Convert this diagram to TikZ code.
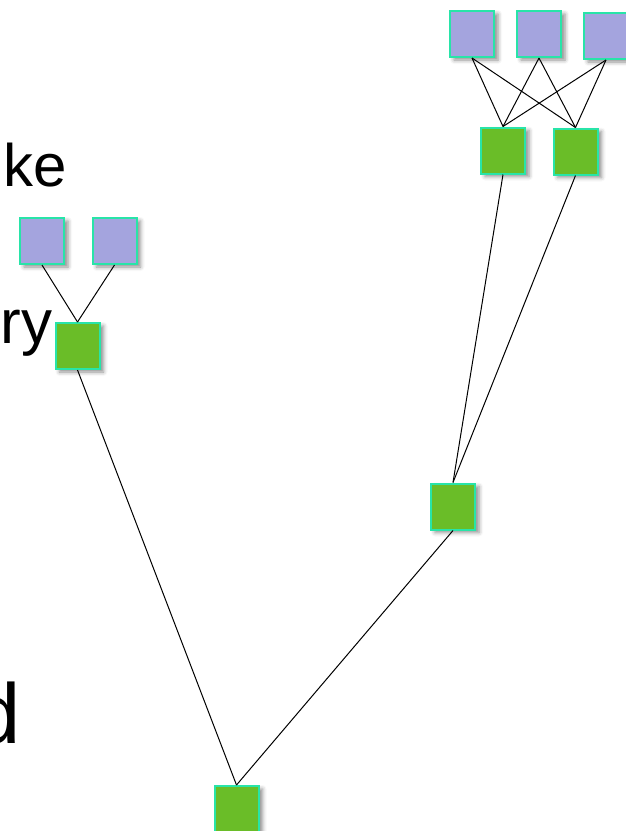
\documentclass[tikz,border=0pt]{standalone}
\usepackage{fontspec}
\setmainfont{Liberation Sans}
\usetikzlibrary{shadows.blur}
\definecolor{leafblue}{RGB}{164,164,222}
\definecolor{innergreen}{RGB}{106,189,40}
\definecolor{rimcyan}{RGB}{40,228,168}
\tikzset{
  box/.style={rectangle, draw=rimcyan, line width=2pt, inner sep=0pt,
    minimum width=44pt, minimum height=46pt,
    blur shadow={shadow xshift=4pt, shadow yshift=-3pt, shadow blur radius=4pt, shadow opacity=45}},
  leaf/.style={box, fill=leafblue},
  inner/.style={box, fill=innergreen},
  edge/.style={draw=black, line width=1pt},
  word/.style={inner sep=0pt, outer sep=0pt}
}
\begin{document}
\begin{tikzpicture}[x=1pt, y=-1pt]
\useasboundingbox (0,0) rectangle (626,831);
\begin{scope}
\clip (0,0) rectangle (626,831);

% text fragments on the left margin
\node[word, anchor=base west, font=\fontsize{60}{66}\selectfont] (t1) at (4,186) {ke};
\node[word, anchor=base west, font=\fontsize{62}{70}\selectfont] (t2) at (1,343) {ry};
\node[word, anchor=base east, font=\fontsize{85}{95}\selectfont] (t3) at (21,743) {d};

% upper right cluster
\node[leaf] (p1) at (472,34) {};
\node[leaf] (p2) at (539,34) {};
\node[leaf] (p3) at (606,36) {};
\node[inner] (g1) at (503,150.5) {};
\node[inner] (g2) at (575.5,151.5) {};

% left cluster
\node[leaf] (l1) at (42,241) {};
\node[leaf] (l2) at (114.5,241) {};
\node[inner] (g3) at (77.5,346) {};

% middle and root
\node[inner] (g4) at (453,506.5) {};
\node[inner] (g5) at (236.5,809) {};

% connectors
\foreach \a in {p1,p2,p3}{
  \foreach \b in {g1,g2}{
    \draw[edge] (\a.south) -- (\b.north);
  }
}
\draw[edge] (l1.south) -- (g3.north);
\draw[edge] (l2.south) -- (g3.north);
\draw[edge] (g1.south) -- (g4.north);
\draw[edge] (g2.south) -- (g4.north);
\draw[edge] (g3.south) -- (g5.north);
\draw[edge] (g4.south) -- (g5.north);
\end{scope}
\end{tikzpicture}
\end{document}
